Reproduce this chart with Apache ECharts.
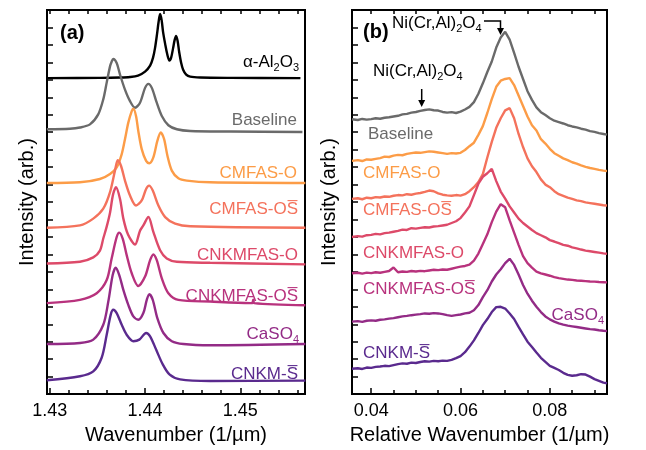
<!DOCTYPE html>
<html>
<head>
<meta charset="utf-8">
<script src="https://cdn.jsdelivr.net/npm/echarts@6.0.0/dist/echarts.min.js"></script>
<style>
  html, body { margin: 0; padding: 0; background: #fff; }
  #chart { width: 646px; height: 450px; }
</style>
</head>
<body>
<div id="chart"></div>
<script>
// panel (a): [wavenumber, intensity] pairs, curves stacked
const aAlumina = [[1.42968,18.10],[1.43526,18.11],[1.43737,18.13],[1.43842,18.16],[1.43926,18.24],[1.44000,18.47],[1.44053,18.81],[1.44084,19.27],[1.44105,19.83],[1.44126,20.63],[1.44142,21.31],[1.44158,21.77],[1.44174,21.42],[1.44189,20.75],[1.44211,20.06],[1.44232,19.49],[1.44256,19.10],[1.44274,19.27],[1.44295,19.83],[1.44311,20.29],[1.44326,20.52],[1.44342,20.23],[1.44358,19.61],[1.44379,18.98],[1.44400,18.58],[1.44432,18.30],[1.44474,18.18],[1.44579,18.13],[1.44895,18.11],[1.45632,18.10]];
const aBaseline = [[1.42968,15.17],[1.43211,15.20],[1.43316,15.27],[1.43421,15.45],[1.43508,16.02],[1.43561,16.88],[1.43597,17.84],[1.43632,18.77],[1.43649,19.04],[1.43666,19.19],[1.43702,18.96],[1.43737,18.30],[1.43789,17.44],[1.43842,16.78],[1.43895,16.40],[1.43947,16.69],[1.44000,17.54],[1.44035,17.77],[1.44071,17.54],[1.44123,16.69],[1.44176,15.93],[1.44245,15.40],[1.44334,15.17],[1.44474,15.07],[1.44895,15.04],[1.45653,15.01]];
const aCmfasO = [[1.42968,12.09],[1.43316,12.13],[1.43526,12.32],[1.43632,12.61],[1.43702,12.99],[1.43755,13.75],[1.43789,14.60],[1.43824,15.55],[1.43860,16.21],[1.43877,16.35],[1.43905,15.93],[1.43929,15.07],[1.43965,14.03],[1.44011,13.36],[1.44045,13.22],[1.44087,13.56],[1.44129,14.50],[1.44165,14.98],[1.44200,14.60],[1.44235,13.65],[1.44281,12.80],[1.44350,12.36],[1.44439,12.23],[1.44684,12.13],[1.45684,12.09]];
const aCmfasOS = [[1.42968,9.53],[1.43316,9.66],[1.43456,10.05],[1.43561,10.62],[1.43632,11.57],[1.43684,12.80],[1.43713,13.40],[1.43747,13.08],[1.43789,12.23],[1.43842,11.37],[1.43905,10.80],[1.43965,11.09],[1.44011,11.75],[1.44042,11.94],[1.44081,11.66],[1.44140,10.80],[1.44211,10.14],[1.44316,9.76],[1.44474,9.61],[1.45684,9.53]];
const aCnkmfasO = [[1.42968,7.48],[1.43316,7.58],[1.43456,7.83],[1.43526,8.22],[1.43561,8.91],[1.43597,9.59],[1.43632,10.39],[1.43663,11.41],[1.43695,11.85],[1.43737,11.18],[1.43772,10.05],[1.43821,9.14],[1.43895,8.57],[1.43947,9.36],[1.43982,9.66],[1.44035,10.14],[1.44087,9.29],[1.44158,8.24],[1.44228,7.77],[1.44334,7.58],[1.44684,7.52],[1.45684,7.43]];
const aCnkmfasOS = [[1.42968,5.21],[1.43316,5.40],[1.43492,5.78],[1.43597,6.53],[1.43649,7.77],[1.43702,9.00],[1.43729,9.25],[1.43765,8.91],[1.43807,7.96],[1.43860,6.92],[1.43929,6.19],[1.44000,6.73],[1.44053,7.67],[1.44087,8.00],[1.44123,7.67],[1.44176,6.63],[1.44245,5.78],[1.44350,5.40],[1.44684,5.30],[1.45105,5.21],[1.45126,5.21],[1.45137,5.41],[1.45147,5.21],[1.45684,5.09]];
const aCaso4 = [[1.42968,2.87],[1.43316,2.93],[1.43456,3.12],[1.43561,3.97],[1.43614,5.30],[1.43660,6.82],[1.43692,7.24],[1.43729,6.82],[1.43772,5.97],[1.43824,5.11],[1.43877,4.45],[1.43929,4.26],[1.43982,4.64],[1.44018,5.40],[1.44045,5.72],[1.44081,5.40],[1.44129,4.35],[1.44193,3.50],[1.44281,3.03],[1.44403,2.87],[1.44684,2.80],[1.45684,2.87]];
const aCnkmS = [[1.42968,0.79],[1.43316,1.02],[1.43456,1.30],[1.43544,2.08],[1.43597,3.40],[1.43639,4.54],[1.43666,4.83],[1.43702,4.64],[1.43755,3.97],[1.43807,3.40],[1.43877,3.03],[1.43940,3.12],[1.44011,3.50],[1.44053,3.31],[1.44116,2.55],[1.44186,1.70],[1.44256,1.13],[1.44368,0.84],[1.44684,0.75],[1.45684,0.77]];

// panel (b): shared relative wavenumber grid
const bX = [0.0357,0.037,0.038,0.039,0.040,0.041,0.042,0.043,0.044,0.045,
  0.046,0.047,0.048,0.049,0.050,0.051,0.052,0.053,0.054,0.055,
  0.056,0.057,0.058,0.059,0.060,0.061,0.062,0.063,0.064,0.065,
  0.066,0.067,0.068,0.069,0.070,0.071,0.072,0.073,0.074,0.075,
  0.076,0.077,0.078,0.079,0.080,0.081,0.082,0.083,0.084,0.085,
  0.086,0.087,0.088,0.089,0.090,0.091,0.092,0.0928];
const bBaseline = [15.74,15.70,15.76,15.72,15.75,15.80,15.77,15.83,15.86,15.90,
  15.94,16.02,16.05,16.12,16.16,16.22,16.27,16.31,16.26,16.24,
  16.16,16.12,16.15,16.10,16.18,16.30,16.45,16.72,17.20,17.80,
  18.45,19.05,19.85,20.42,20.75,20.30,19.55,18.75,18.05,17.35,
  16.85,16.42,16.15,15.98,15.80,15.66,15.58,15.50,15.40,15.33,
  15.28,15.20,15.15,15.06,15.02,14.95,14.90,14.86];
const bCmfasO = [13.36,13.40,13.35,13.44,13.42,13.47,13.52,13.60,13.58,13.66,
  13.70,13.68,13.76,13.80,13.84,13.82,13.86,13.90,13.88,13.84,
  13.80,13.76,13.80,13.78,13.82,13.98,14.20,14.40,14.85,15.35,
  16.10,16.90,17.60,17.95,18.05,18.10,17.70,17.10,16.50,15.90,
  15.40,15.10,14.60,14.35,14.05,13.80,13.65,13.50,13.40,13.28,
  13.20,13.10,13.02,12.95,12.90,12.84,12.80,12.78];
const bCmfasOS = [11.18,11.22,11.16,11.25,11.22,11.28,11.26,11.32,11.30,11.36,
  11.40,11.38,11.45,11.42,11.48,11.52,11.58,11.66,11.62,11.50,
  11.42,11.38,11.36,11.40,11.37,11.45,11.62,11.85,12.15,12.60,
  13.55,14.45,15.25,15.80,16.25,16.38,15.80,14.90,14.15,13.50,
  13.05,12.72,12.30,12.00,11.85,11.62,11.45,11.35,11.25,11.18,
  11.10,11.05,10.98,10.94,10.90,10.86,10.82,10.80];
const bCnkmfasO = [9.00,9.05,9.02,9.10,9.12,9.18,9.15,9.22,9.25,9.30,
  9.35,9.42,9.40,9.50,9.48,9.52,9.56,9.54,9.60,9.62,
  9.66,9.70,9.80,9.90,10.08,10.40,10.75,11.40,12.05,12.45,
  12.65,12.90,12.20,11.60,11.20,10.75,10.40,10.05,9.80,9.60,
  9.40,9.22,9.10,8.98,8.82,8.74,8.65,8.55,8.50,8.40,
  8.35,8.28,8.22,8.18,8.14,8.10,8.06,8.04];
const bCnkmfasOS = [6.92,6.95,6.90,6.96,6.93,6.98,6.95,7.00,7.05,7.25,
  6.98,7.02,7.00,7.05,7.02,7.06,7.04,7.08,7.12,7.10,
  7.14,7.12,7.18,7.24,7.30,7.34,7.42,7.65,8.05,8.60,
  9.15,9.85,10.45,10.88,10.70,9.95,9.25,8.55,7.90,7.50,
  7.25,7.02,6.92,6.85,6.78,6.70,6.64,6.60,6.56,6.54,
  6.51,6.49,6.47,6.45,6.44,6.42,6.41,6.40];
const bCaso4 = [4.15,4.18,4.14,4.20,4.22,4.20,4.26,4.28,4.32,4.35,
  4.40,4.45,4.48,4.52,4.55,4.58,4.62,4.60,4.64,4.62,
  4.58,4.52,4.48,4.52,4.56,4.62,4.66,4.80,5.10,5.55,
  5.95,6.45,6.85,7.15,7.50,7.75,7.40,6.85,6.25,5.75,
  5.35,5.00,4.70,4.45,4.28,4.15,4.05,3.98,3.92,3.88,
  3.84,3.80,3.76,3.72,3.70,3.66,3.63,3.61];
const bCnkmS = [1.45,1.48,1.44,1.52,1.50,1.56,1.58,1.62,1.60,1.66,
  1.72,1.76,1.74,1.80,1.78,1.84,1.88,1.86,1.90,1.88,
  1.92,1.90,1.96,2.06,2.18,2.40,2.72,3.08,3.50,3.95,
  4.30,4.70,4.98,5.00,4.90,4.62,4.30,3.85,3.42,3.00,
  2.70,2.38,2.08,1.85,1.62,1.50,1.38,1.22,1.10,1.05,
  1.08,1.14,1.12,1.00,0.86,0.76,0.66,0.62];

// tick values
const aMajor = [1.43, 1.44, 1.45];
const aMinor = [1.432, 1.434, 1.436, 1.438, 1.442, 1.444, 1.446, 1.448, 1.452, 1.454, 1.456];
const bMajor = [0.04, 0.06, 0.08];
const bMinor = [0.045, 0.05, 0.055, 0.065, 0.07, 0.075, 0.085, 0.09];

const FONT = '"Liberation Sans", Arial, sans-serif';
const colors = {
  alumina: '#000000', baseline: '#6a6a6a', cmfasO: '#fc9c47', cmfasOS: '#f4725c',
  cnkmfasO: '#dd4a69', cnkmfasOS: '#b8327d', caso4: '#932b86', cnkmS: '#5a2a8e'
};

let myChart = echarts.init(document.getElementById('chart'));

function xAxesFor(gi, min, max, major, minor, name, nameGap) {
  let all = major.concat(minor);
  return [
    {
      gridIndex: gi, type: 'value', min: min, max: max, position: 'bottom',
      axisLine: { show: true, onZero: false, lineStyle: { color: '#000', width: 2 } },
      axisTick: { show: true, inside: true, length: 6, customValues: major, lineStyle: { color: '#000', width: 1.5 } },
      axisLabel: { customValues: major, formatter: v => v.toFixed(2), fontSize: 18, color: '#000', margin: 8, fontFamily: FONT },
      splitLine: { show: false },
      name: name, nameLocation: 'middle', nameGap: nameGap,
      nameTextStyle: { fontSize: 20, color: '#000', fontFamily: FONT }
    },
    {
      gridIndex: gi, type: 'value', min: min, max: max, position: 'bottom',
      axisLine: { show: false },
      axisTick: { show: true, inside: true, length: 4, customValues: minor, lineStyle: { color: '#000', width: 1.5 } },
      axisLabel: { show: false }, splitLine: { show: false }
    },
    {
      gridIndex: gi, type: 'value', min: min, max: max, position: 'top',
      axisLine: { show: true, onZero: false, lineStyle: { color: '#000', width: 2 } },
      axisTick: { show: true, inside: true, length: 4, customValues: all, lineStyle: { color: '#000', width: 1.5 } },
      axisLabel: { show: false }, splitLine: { show: false }
    }
  ];
}

function yAxisFor(gi, nameGap) {
  return {
    gridIndex: gi, type: 'value', min: 0, max: 22, interval: 1,
    axisLine: { show: true, lineStyle: { color: '#000', width: 2 } },
    axisTick: { show: true, inside: true, length: 6, lineStyle: { color: '#000', width: 1.5 } },
    axisLabel: { show: false }, splitLine: { show: false },
    name: 'Intensity (arb.)', nameLocation: 'middle', nameGap: nameGap, nameRotate: 90,
    nameTextStyle: { fontSize: 20, color: '#000', fontFamily: FONT }
  };
}

function line(xi, yi, data, color, smooth) {
  return {
    type: 'line', xAxisIndex: xi, yAxisIndex: yi, data: data,
    symbol: 'none', smooth: smooth, silent: true,
    lineStyle: { color: color, width: 2.4 }
  };
}

function zipB(ys) {
  return bX.map((x, i) => [x, ys[i]]);
}

// text labels with subscripts via rich text
function label(text, x, y, color, align, size) {
  return {
    type: 'text', x: x, y: y, silent: true,
    style: {
      text: text, fill: color, textAlign: align, textVerticalAlign: 'middle',
      font: (size || 17) + 'px ' + FONT, lineHeight: 22,
      rich: { s: { fontSize: 11, fill: color, fontFamily: FONT, verticalAlign: 'bottom', lineHeight: 12 } }
    }
  };
}

const OS = 'S\u0305';

myChart.setOption({
  animation: false,
  grid: [
    { left: 47, top: 10, width: 258, height: 386.5, show: true, borderColor: '#000', borderWidth: 2 },
    { left: 352, top: 10, width: 255, height: 386.5, show: true, borderColor: '#000', borderWidth: 2 }
  ],
  xAxis: xAxesFor(0, 1.4297, 1.4568, aMajor, aMinor, 'Wavenumber (1/\u00b5m)', 30)
    .concat(xAxesFor(1, 0.0357, 0.0928, bMajor, bMinor, 'Relative Wavenumber (1/\u00b5m)', 30)),
  yAxis: [yAxisFor(0, 10), yAxisFor(1, 13)],
  series: [
    line(0, 0, aAlumina, colors.alumina, 0.3),
    line(0, 0, aBaseline, colors.baseline, 0.3),
    line(0, 0, aCmfasO, colors.cmfasO, 0.3),
    line(0, 0, aCmfasOS, colors.cmfasOS, 0.3),
    line(0, 0, aCnkmfasO, colors.cnkmfasO, 0.3),
    line(0, 0, aCnkmfasOS, colors.cnkmfasOS, 0.3),
    line(0, 0, aCaso4, colors.caso4, 0.3),
    line(0, 0, aCnkmS, colors.cnkmS, 0.3),
    line(3, 1, zipB(bBaseline), colors.baseline, false),
    line(3, 1, zipB(bCmfasO), colors.cmfasO, false),
    line(3, 1, zipB(bCmfasOS), colors.cmfasOS, false),
    line(3, 1, zipB(bCnkmfasO), colors.cnkmfasO, false),
    line(3, 1, zipB(bCnkmfasOS), colors.cnkmfasOS, false),
    line(3, 1, zipB(bCaso4), colors.caso4, false),
    line(3, 1, zipB(bCnkmS), colors.cnkmS, false)
  ],
  graphic: [
    { type: 'text', x: 60, y: 33, silent: true,
      style: { text: '(a)', font: 'bold 20px ' + FONT, fill: '#000', textVerticalAlign: 'middle' } },
    { type: 'text', x: 363, y: 32, silent: true,
      style: { text: '(b)', font: 'bold 20px ' + FONT, fill: '#000', textVerticalAlign: 'middle' } },
    label('\u03b1-Al{s|2}O{s|3}', 299, 62, colors.alumina, 'right'),
    label('Baseline', 297, 120, colors.baseline, 'right'),
    label('CMFAS-O', 297, 173, colors.cmfasO, 'right'),
    label('CMFAS-O' + OS, 298, 209, colors.cmfasOS, 'right'),
    label('CNKMFAS-O', 298, 255, colors.cnkmfasO, 'right'),
    label('CNKMFAS-O' + OS, 298, 296, colors.cnkmfasOS, 'right'),
    label('CaSO{s|4}', 299, 334, colors.caso4, 'right'),
    label('CNKM-' + OS, 298, 374, colors.cnkmS, 'right'),
    label('Baseline', 368, 134, colors.baseline, 'left'),
    label('CMFAS-O', 363, 173, colors.cmfasO, 'left'),
    label('CMFAS-O' + OS, 363, 210, colors.cmfasOS, 'left'),
    label('CNKMFAS-O', 363, 253, colors.cnkmfasO, 'left'),
    label('CNKMFAS-O' + OS, 363, 289, colors.cnkmfasOS, 'left'),
    label('CaSO{s|4}', 604, 315, colors.caso4, 'right'),
    label('CNKM-' + OS, 363, 353, colors.cnkmS, 'left'),
    label('Ni(Cr,Al){s|2}O{s|4}', 392, 23, '#000', 'left'),
    label('Ni(Cr,Al){s|2}O{s|4}', 373, 71, '#000', 'left'),
    // arrows
    { type: 'polyline', silent: true, shape: { points: [[484, 21], [500.5, 21], [500.5, 29]] },
      style: { stroke: '#000', lineWidth: 1.5, fill: null } },
    { type: 'polygon', silent: true, shape: { points: [[497, 28], [504, 28], [500.5, 35]] },
      style: { fill: '#000' } },
    { type: 'line', silent: true, shape: { x1: 421.7, y1: 89, x2: 421.7, y2: 101 },
      style: { stroke: '#000', lineWidth: 1.5 } },
    { type: 'polygon', silent: true, shape: { points: [[418.2, 100], [425.2, 100], [421.7, 107]] },
      style: { fill: '#000' } }
  ]
});
</script>
</body>
</html>
